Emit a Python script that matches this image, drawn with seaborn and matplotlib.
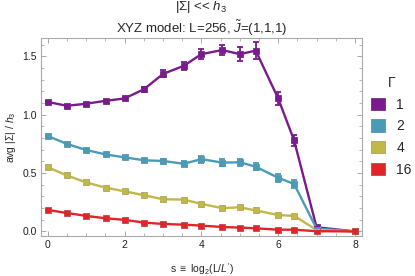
import numpy as np
import pandas as pd
import matplotlib
matplotlib.use("Agg")
import matplotlib.pyplot as plt
from matplotlib.ticker import MultipleLocator
from matplotlib.patches import Patch
import seaborn as sns

# s = log2(L/L') for L = 256
s_vals = [0, 0.5, 1, 1.508, 2, 2.508, 3, 3.541, 4, 4.541, 5, 5.415, 6, 6.415, 7, 8]

gamma_labels = ["1", "2", "4", "16"]
avg_g1 = [1.11, 1.077, 1.095, 1.12, 1.14, 1.22, 1.35, 1.42, 1.52, 1.555, 1.52, 1.55, 1.14, 0.78, 0.036, 0.0]
avg_g2 = [0.818, 0.75, 0.698, 0.66, 0.635, 0.61, 0.604, 0.58, 0.62, 0.59, 0.593, 0.555, 0.46, 0.407, 0.024, 0.0]
avg_g4 = [0.55, 0.48, 0.42, 0.375, 0.344, 0.31, 0.276, 0.273, 0.236, 0.2, 0.207, 0.18, 0.141, 0.133, 0.013, 0.0]
avg_g16 = [0.184, 0.158, 0.133, 0.113, 0.099, 0.076, 0.064, 0.058, 0.05, 0.038, 0.033, 0.027, 0.015, 0.015, 0.002, 0.0]

err_g1 = [0.008, 0.008, 0.008, 0.01, 0.015, 0.022, 0.03, 0.035, 0.043, 0.045, 0.06, 0.075, 0.058, 0.05, 0.005, 0.0]
err_g2 = [0.006, 0.006, 0.006, 0.008, 0.01, 0.014, 0.02, 0.02, 0.03, 0.028, 0.028, 0.03, 0.033, 0.035, 0.004, 0.0]
err_g4 = [0.005, 0.005, 0.005, 0.005, 0.006, 0.006, 0.008, 0.008, 0.01, 0.01, 0.012, 0.012, 0.012, 0.014, 0.002, 0.0]
err_g16 = [0.004, 0.004, 0.004, 0.004, 0.004, 0.004, 0.004, 0.004, 0.004, 0.004, 0.004, 0.004, 0.004, 0.004, 0.001, 0.0]

colors = ["#7b1a8e", "#4a9bb8", "#c2b84a", "#e02428"]

frames = []
for g, y, e in zip(gamma_labels, [avg_g1, avg_g2, avg_g4, avg_g16], [err_g1, err_g2, err_g4, err_g16]):
    frames.append(pd.DataFrame({"s": s_vals, "avg": y, "err": e, "Gamma": g}))
df = pd.concat(frames, ignore_index=True)

sns.set_style("ticks")
plt.rcParams["font.family"] = ["Liberation Sans", "DejaVu Sans"]
plt.rcParams["mathtext.fontset"] = "custom"
plt.rcParams["mathtext.rm"] = "Liberation Sans"
plt.rcParams["mathtext.it"] = "Liberation Sans:italic"

fig = plt.figure(figsize=(4.15, 2.76), dpi=100)
ax = fig.add_axes([0.099, 0.145, 0.773, 0.718])

palette = dict(zip(gamma_labels, colors))
sns.lineplot(data=df, x="s", y="avg", hue="Gamma", palette=palette, hue_order=gamma_labels,
             marker="s", markersize=4.3, markeredgewidth=0.6, linewidth=1.7,
             legend=False, ax=ax, zorder=3)
for line, c in zip(ax.get_lines(), colors):
    line.set_markeredgecolor(sns.desaturate(c, 0.6))

for g, c in zip(gamma_labels, colors):
    d = df[df["Gamma"] == g]
    ax.errorbar(d["s"], d["avg"], yerr=d["err"], fmt="none", ecolor=c,
                elinewidth=1.3, capsize=2.5, capthick=1.3, zorder=4)

ax.set_xlim(-0.175, 8.18)
ax.set_ylim(-0.039, 1.66)
ax.xaxis.set_major_locator(MultipleLocator(2))
ax.xaxis.set_minor_locator(MultipleLocator(0.5))
ax.yaxis.set_major_locator(MultipleLocator(0.5))
ax.yaxis.set_minor_locator(MultipleLocator(0.1))
ax.tick_params(which="both", direction="in", top=True, right=True, color="#999999",
               labelsize=7.5, labelcolor="#222222", pad=3)
ax.tick_params(which="major", length=3.5, width=0.6)
ax.tick_params(which="minor", length=2, width=0.5)
for sp in ax.spines.values():
    sp.set_color("#aaaaaa")
    sp.set_linewidth(0.8)

ax.set_xlabel(r"s $\equiv$ log$_2$(L/$L'$)", fontsize=7.5, labelpad=8)
ax.set_ylabel(r"avg |$\Sigma$| / $h_3$", fontsize=7.5, labelpad=3)
ax.set_title("|$\\Sigma$| << $h_3$\nXYZ model: L=256, $\\tilde{J}$=(1,1,1)", fontsize=9.5, pad=3,
             linespacing=1.25)

handles = [Patch(facecolor=c, edgecolor=sns.desaturate(c, 0.6), linewidth=0.6) for c in colors]
leg = fig.legend(handles, gamma_labels, title="Γ", loc="upper left", bbox_to_anchor=(0.875, 0.755),
                 frameon=False, fontsize=10, title_fontsize=10, handlelength=1.0, handleheight=1.0,
                 handletextpad=0.8, labelspacing=0.55, alignment="center", borderaxespad=0.2)

fig.savefig("out.png", dpi=100)
